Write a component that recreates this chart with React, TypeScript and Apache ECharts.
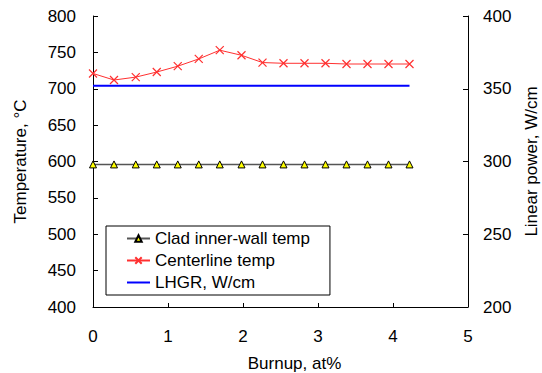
import React, { useEffect, useRef } from "react";
import * as echarts from "echarts";

const burnup = [0, 0.28, 0.57, 0.85, 1.13, 1.41, 1.69, 1.98, 2.26, 2.54, 2.82, 3.10, 3.38, 3.66, 3.94, 4.22];
const cladTemp = [596, 596, 596, 596, 596, 596, 596, 596, 596, 596, 596, 596, 596, 596, 596, 596];
const centerTemp = [721, 712, 716, 723, 731, 741, 753, 746, 736, 735, 735, 735, 734, 734, 734, 734];
const lhgr = [352, 352, 352, 352, 352, 352, 352, 352, 352, 352, 352, 352, 352, 352, 352, 352];

const FONT = "Liberation Sans, Arial, sans-serif";

export default function App() {
  const ref = useRef<HTMLDivElement>(null);
  useEffect(() => {
    if (!ref.current) return;
    const chart = echarts.init(ref.current, undefined, { renderer: "svg" });
    const pair = (ys: number[]) => burnup.map((x, i) => [x, ys[i]]);
    chart.setOption({
      animation: false,
      backgroundColor: "#ffffff",
      textStyle: { fontFamily: FONT, color: "#000" },
      grid: { left: 93, right: 74, top: 16, bottom: 66, outerBoundsMode: "none", containLabel: false },
      legend: {
        orient: "vertical",
        left: 106,
        top: 226,
        padding: [4, 20, 4, 20],
        itemGap: 5,
        itemWidth: 23,
        itemHeight: 8,
        borderColor: "#000",
        borderWidth: 1,
        backgroundColor: "#fff",
        textStyle: { fontFamily: FONT, fontSize: 17, color: "#000" },
        data: [
          { name: "Clad inner-wall temp" },
          { name: "Centerline temp" },
          { name: "LHGR, W/cm", itemStyle: { opacity: 0 } },
        ],
      },
      xAxis: {
        type: "value",
        min: 0,
        max: 5,
        interval: 1,
        name: "Burnup, at%",
        nameLocation: "middle",
        nameGap: 48,
        nameTextStyle: { fontFamily: FONT, fontSize: 17, color: "#000", padding: [0, 0, 0, 28] },
        axisLine: { show: true, lineStyle: { color: "#000", width: 1 } },
        axisTick: { show: true, inside: true, length: 4, lineStyle: { color: "#000" } },
        axisLabel: { fontFamily: FONT, fontSize: 17, color: "#000", margin: 21 },
        splitLine: { show: false },
      },
      yAxis: [
        {
          type: "value",
          min: 400,
          max: 800,
          interval: 50,
          name: "Temperature, °C",
          nameLocation: "middle",
          nameRotate: 90,
          nameGap: 64,
          nameTextStyle: { fontFamily: FONT, fontSize: 17, color: "#000" },
          axisLine: { show: true, lineStyle: { color: "#000", width: 1 } },
          axisTick: { show: true, inside: true, length: 5, lineStyle: { color: "#000" } },
          axisLabel: { fontFamily: FONT, fontSize: 17, color: "#000", margin: 17 },
          splitLine: { show: false },
        },
        {
          type: "value",
          min: 200,
          max: 400,
          interval: 50,
          position: "right",
          name: "Linear power, W/cm",
          nameLocation: "middle",
          nameRotate: 90,
          nameGap: 55,
          nameTextStyle: { fontFamily: FONT, fontSize: 17, color: "#000" },
          axisLine: { show: true, lineStyle: { color: "#000", width: 1 } },
          axisTick: { show: true, inside: true, length: 5, lineStyle: { color: "#000" } },
          axisLabel: { fontFamily: FONT, fontSize: 17, color: "#000", margin: 15 },
          splitLine: { show: false },
        },
      ],
      series: [
        {
          name: "Clad inner-wall temp",
          type: "line",
          yAxisIndex: 0,
          data: pair(cladTemp),
          symbol: "triangle",
          symbolSize: 7,
          lineStyle: { color: "#555", width: 1.5 },
          itemStyle: { color: "#ffff00", borderColor: "#000", borderWidth: 1 },
          z: 3,
        },
        {
          name: "Centerline temp",
          type: "line",
          yAxisIndex: 0,
          data: pair(centerTemp),
          symbol: "path://M0,0L10,10M10,0L0,10",
          symbolSize: 8,
          lineStyle: { color: "#ff3030", width: 1 },
          itemStyle: { color: "#ff3030", borderColor: "#ff3030", borderWidth: 1.2 },
          z: 3,
        },
        {
          name: "LHGR, W/cm",
          type: "line",
          yAxisIndex: 1,
          data: pair(lhgr),
          symbol: "none",
          lineStyle: { color: "#0000ff", width: 2 },
          itemStyle: { color: "#0000ff" },
          z: 2,
        },
      ],
    });
    return () => chart.dispose();
  }, []);
  return (
    <div
      ref={ref}
      style={{ position: "fixed", left: 0, top: 0, width: 542, height: 373, background: "#fff" }}
    />
  );
}
